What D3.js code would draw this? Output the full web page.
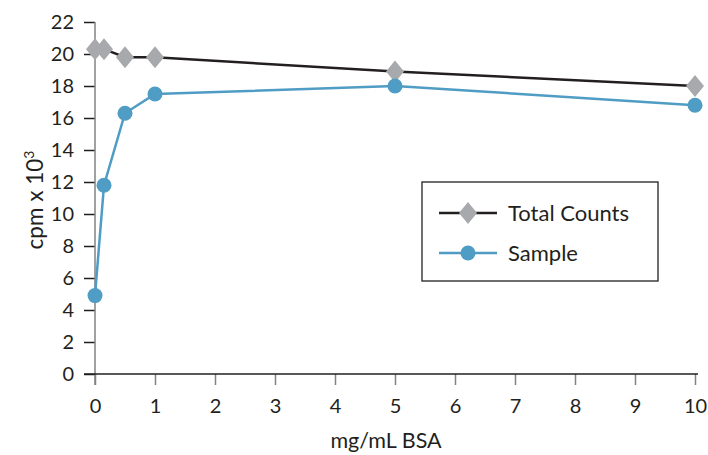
<!DOCTYPE html>
<html>
<head>
<meta charset="utf-8">
<script src="https://cdn.jsdelivr.net/npm/d3@7"></script>
<style>
body{margin:0;background:#fff;}
text{font-family:Lato,"Noto Sans",sans-serif;fill:#231f20;}
</style>
</head>
<body>
<div id="chart"></div>
<script>
// values
var xVals = [0, 0.15, 0.5, 1, 5, 10];
var totalCounts = [20.3, 20.3, 19.8, 19.8, 18.9, 18.0];
var sample = [4.9, 11.8, 16.3, 17.5, 18.0, 16.8];
var xTicks = [0,1,2,3,4,5,6,7,8,9,10];
var yTicks = [0,2,4,6,8,10,12,14,16,18,20,22];

var width = 708, height = 455;
var svg = d3.select("#chart").append("svg")
    .attr("width", width)
    .attr("height", height);

var x = d3.scaleLinear().domain([0,10]).range([95,695]);
var y = d3.scaleLinear().domain([0,22]).range([374,22]);

// y axis
var yAxis = svg.append("g")
    .attr("transform","translate(95,0)")
    .call(d3.axisLeft(y).tickValues(yTicks).tickSize(11).tickPadding(10));
yAxis.select(".domain").remove();
yAxis.selectAll(".tick line").attr("stroke","#231f20").attr("stroke-width",1.5);
yAxis.selectAll("text").attr("font-size",20).style("font-family","Lato,'Noto Sans',sans-serif").attr("fill","#231f20");
svg.append("line") //vertical axis line
    .attr("x1",95).attr("x2",95).attr("y1",y(22)).attr("y2",385)
    .attr("stroke","#808285").attr("stroke-width",1.5);

// x axis
var xAxis = svg.append("g")
    .attr("transform","translate(0,374)")
    .call(d3.axisBottom(x).tickValues(xTicks).tickSize(11).tickPadding(14));
xAxis.select(".domain").remove();
xAxis.selectAll(".tick line").attr("stroke","#808285").attr("stroke-width",1.5);
xAxis.selectAll("text").attr("font-size",20).style("font-family","Lato,'Noto Sans',sans-serif").attr("fill","#231f20");
svg.append("line") //horizontal axis line
    .attr("x1",84).attr("x2",698).attr("y1",374).attr("y2",374)
    .attr("stroke","#231f20").attr("stroke-width",1.5);

// axis titles
svg.append("text")
    .attr("x", 386).attr("y", 448)
    .attr("text-anchor","middle")
    .attr("font-size",21.5)
    .text("mg/mL BSA");

var yt = svg.append("text")
    .attr("transform","translate(43,200) rotate(-90)")
    .attr("text-anchor","middle")
    .attr("font-size",22.5);
yt.append("tspan").text("cpm x 10");
yt.append("tspan").attr("font-size",14).attr("dy",-9).text("3");

var line = d3.line()
    .x(function(d){ return x(d[0]); })
    .y(function(d){ return y(d[1]); });

var totalData = xVals.map(function(v,i){ return [v, totalCounts[i]]; });
var sampleData = xVals.map(function(v,i){ return [v, sample[i]]; });

svg.append("path")
    .datum(sampleData)
    .attr("d", line)
    .attr("fill","none")
    .attr("stroke","#4f9cc4")
    .attr("stroke-width",2.5);

svg.append("path")
    .datum(totalData)
    .attr("d", line)
    .attr("fill","none")
    .attr("stroke","#231f20")
    .attr("stroke-width",2.5);

var diamond = "M0,-11L9,0L0,11L-9,0Z";

svg.selectAll("path.dia")
    .data(totalData)
    .enter()
    .append("path")
    .attr("class","dia")
    .attr("d", diamond)
    .attr("transform", function(d){ return "translate(" + x(d[0]) + "," + y(d[1]) + ")"; })
    .attr("fill","#a7a9ac");

svg.selectAll("circle.dot")
    .data(sampleData)
    .enter()
    .append("circle")
    .attr("class","dot")
    .attr("cx", function(d){ return x(d[0]); })
    .attr("cy", function(d){ return y(d[1]); })
    .attr("r", 7.5)
    .attr("fill","#4f9cc4");

// legend
var lg = svg.append("g");
lg.append("rect")
    .attr("x",422).attr("y",182).attr("width",236).attr("height",99)
    .attr("fill","#fff").attr("stroke","#231f20").attr("stroke-width",1.3);

lg.append("line").attr("x1",439).attr("x2",497).attr("y1",213).attr("y2",213)
    .attr("stroke","#231f20").attr("stroke-width",2.5);
lg.append("path").attr("d",diamond).attr("transform","translate(468,213)").attr("fill","#a7a9ac");
lg.append("text").attr("x",508).attr("y",221).attr("font-size",22).text("Total Counts");

lg.append("line").attr("x1",439).attr("x2",497).attr("y1",253).attr("y2",253)
    .attr("stroke","#4f9cc4").attr("stroke-width",2.5);
lg.append("circle").attr("cx",468).attr("cy",253).attr("r",7.5).attr("fill","#4f9cc4");
lg.append("text").attr("x",508).attr("y",261).attr("font-size",22).text("Sample");
</script>
</body>
</html>
